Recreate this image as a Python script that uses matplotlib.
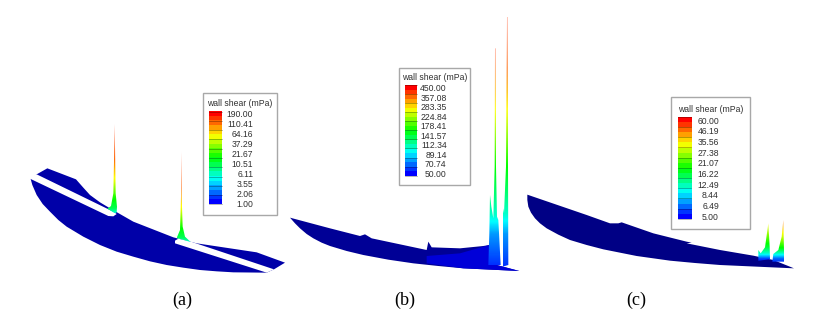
import numpy as np
import matplotlib
matplotlib.use("Agg")
import matplotlib.pyplot as plt
from matplotlib.colors import LinearSegmentedColormap
from matplotlib.patches import Polygon, Rectangle

# legend values
title_legend = "wall shear (mPa)"
labels_a = ["190.00", "110.41", "64.16", "37.29", "21.67", "10.51", "6.11", "3.55", "2.06", "1.00"]
labels_b = ["450.00", "357.08", "283.35", "224.84", "178.41", "141.57", "112.34", "89.14", "70.74", "50.00"]
labels_c = ["60.00", "46.19", "35.56", "27.38", "21.07", "16.22", "12.49", "8.44", "6.49", "5.00"]
captions = ["(a)", "(b)", "(c)"]

# outlines, read in crop coordinates (3x zoom), origin given by the offsets below
off_a = (0, 80)
off_b = (280, 0)
off_c = (520, 90)

body_a = [(110, 283), (142, 265), (228, 298), (250, 323), (270, 345), (300, 367), (330, 385), (400, 425), (520, 472), (590, 490),
          (770, 517), (855, 548), (822, 568), (800, 578), (700, 577), (650, 574), (600, 570), (550, 563), (500, 555),
          (450, 544), (400, 530), (350, 515), (300, 495), (250, 470), (200, 440), (175, 420), (150, 395), (128, 372),
          (110, 345), (97, 315), (92, 297)]
slit_a1 = [(88, 290), (110, 283), (340, 395), (350, 402), (340, 409), (325, 408), (92, 297)]
slit_a2 = [(525, 482), (535, 476), (570, 484), (822, 568), (800, 578), (525, 490)]
spike_a1 = [(322, 386), (333, 378), (340, 340), (343, 200), (344, 132), (345, 200), (347, 340), (351, 380), (350, 397), (345, 400)]
spike_a2 = [(530, 474), (540, 450), (543, 350), (544, 215), (545, 350), (548, 440), (555, 470), (572, 486)]

body_b = [(30, 653), (150, 685), (240, 708), (255, 703), (275, 715), (440, 750), (445, 725), (455, 742), (540, 745),
          (610, 738), (628, 735), (650, 795), (718, 813), (550, 805), (475, 798), (400, 790), (325, 779), (250, 765),
          (200, 753), (150, 738), (125, 728), (100, 715), (80, 702), (60, 685), (45, 670)]
body_b_light = [(440, 768), (540, 760), (610, 740), (628, 735), (650, 795), (718, 813), (550, 805), (440, 790)]
spike_b1 = [(625, 795), (628, 700), (630, 585), (634, 620), (640, 655), (644, 500), (645, 145), (647, 145), (648, 500), (651, 650), (655, 660), (662, 795)]
spike_b2 = [(668, 800), (668, 620), (672, 640), (678, 500), (681, 50), (683, 50), (684, 500), (685, 795)]

body_c = [(22, 314), (200, 375), (270, 400), (295, 400), (305, 397), (400, 430), (500, 455), (515, 458), (500, 460),
          (600, 480), (700, 497), (760, 510), (822, 535), (600, 525), (525, 519), (450, 512), (400, 505), (350, 498),
          (300, 488), (250, 478), (200, 465), (150, 450), (115, 434), (80, 415), (60, 400), (45, 385), (33, 368),
          (25, 350), (22, 330)]
spike_c1 = [(715, 512), (715, 480), (722, 490), (735, 472), (745, 400), (749, 470), (750, 508)]
spike_c2 = [(757, 515), (760, 492), (775, 480), (785, 440), (790, 390), (792, 480), (792, 515)]

rainbow = LinearSegmentedColormap.from_list("rainbow5", ["#0000ff", "#00ffff", "#00ff00", "#ffff00", "#ff0000"])


def to_px(pts, off):
    return [(off[0] + x / 3, off[1] + y / 3) for x, y in pts]


def spike(ax, pts, off, pos, vals, fade=1.0):
    # vertical gradient clipped to the outline, pos 0 is the tip
    p = np.array(to_px(pts, off))
    x0, x1, y0, y1 = p[:, 0].min(), p[:, 0].max(), p[:, 1].min(), p[:, 1].max()
    t = np.linspace(0, 1, 200)
    g = np.interp(t, pos, vals).reshape(-1, 1)
    a = np.interp(t, [0, 0.3, 1], [fade, 1, 1]).reshape(-1, 1)
    im = ax.imshow(g, cmap=rainbow, vmin=0, vmax=1, extent=(x0, x1, y1, y0), aspect="auto", alpha=a, zorder=3)
    poly = Polygon(p, closed=True, transform=ax.transData, fc="none", ec="none")
    ax.add_patch(poly)
    im.set_clip_path(poly)


def legend(ax, box, bar, tx, ty, lx, ly, labels):
    ax.add_patch(Rectangle((box[0], box[2]), box[1] - box[0], box[3] - box[2], fc="white", ec="#a8a8a8", lw=1.0, zorder=5))
    g = np.linspace(1, 0, 20).reshape(-1, 1)
    ax.imshow(g, cmap=rainbow, vmin=0, vmax=1, extent=(bar[0], bar[1], bar[3], bar[2]), aspect="auto",
              interpolation="nearest", zorder=6)
    for y in np.linspace(bar[2], bar[3], 11):
        ax.plot([bar[0], bar[1]], [y, y], color="black", lw=0.5, alpha=0.4, zorder=7)
    ax.text(tx, ty, title_legend, ha="center", va="center", fontsize=6.2, family="Liberation Sans", color="#303030", zorder=7)
    for lab, y in zip(labels, np.linspace(ly[0], ly[1], len(labels))):
        ax.text(lx, y, lab, ha="right", va="center", fontsize=6.2, family="Liberation Sans", color="#303030", zorder=7)


fig = plt.figure(figsize=(8.16, 3.21), dpi=100)
ax = fig.add_axes([0, 0, 1, 1])

# (a)
ax.add_patch(Polygon(to_px(body_a, off_a), fc="#0000a8", ec="none", zorder=2))
for s in (slit_a1, slit_a2):
    ax.add_patch(Polygon(to_px(s, off_a), fc="white", ec="none", zorder=2.5))
spike(ax, spike_a1, off_a, [0, 0.4, 0.65, 0.85, 0.95, 1], [0.95, 0.9, 0.72, 0.5, 0.42, 0.3], fade=0.7)
spike(ax, spike_a2, off_a, [0, 0.4, 0.65, 0.85, 0.95, 1], [0.95, 0.9, 0.72, 0.5, 0.42, 0.3], fade=0.7)

# (b)
ax.add_patch(Polygon(to_px(body_b, off_b), fc="#000096", ec="none", zorder=2))
ax.add_patch(Polygon(to_px(body_b_light, off_b), fc="#0000d8", ec="none", zorder=2.2))
spike(ax, spike_b1, off_b, [0, 0.08, 0.32, 0.55, 0.77, 0.86, 1], [0.95, 0.9, 0.72, 0.5, 0.3, 0.15, 0.05], fade=0.45)
spike(ax, spike_b2, off_b, [0, 0.2, 0.4, 0.6, 0.79, 0.87, 1], [0.95, 0.9, 0.72, 0.5, 0.3, 0.15, 0.05], fade=0.4)

# (c)
ax.add_patch(Polygon(to_px(body_c, off_c), fc="#000085", ec="none", zorder=2))
spike(ax, spike_c1, off_c, [0, 0.27, 0.63, 0.8, 0.95, 1], [0.75, 0.65, 0.45, 0.3, 0.05, 0.05], fade=0.7)
spike(ax, spike_c2, off_c, [0, 0.4, 0.68, 0.8, 0.92, 1], [0.9, 0.7, 0.48, 0.3, 0.1, 0.05], fade=0.6)

# legends
legend(ax, (202.7, 277.3, 93.3, 215), (209, 221.7, 111.7, 204.3), 240, 103.7, 253.3, (114.7, 204.7), labels_a)
legend(ax, (399.3, 470, 68.3, 185.3), (405, 417, 85, 175.7), 434.3, 77.3, 446.7, (88.7, 174.3), labels_b)
legend(ax, (671, 750.3, 97.3, 229.3), (677.7, 691, 116.7, 218.7), 710.3, 109, 719, (121, 217.3), labels_c)

for cap, x in zip(captions, [182, 404.3, 636.3]):
    ax.text(x, 300, cap, ha="center", va="center", fontsize=13, family="Liberation Serif", color="black")

ax.set_xlim(0, 816)
ax.set_ylim(321, 0)
ax.axis("off")

fig.savefig("out.png", dpi=100)
